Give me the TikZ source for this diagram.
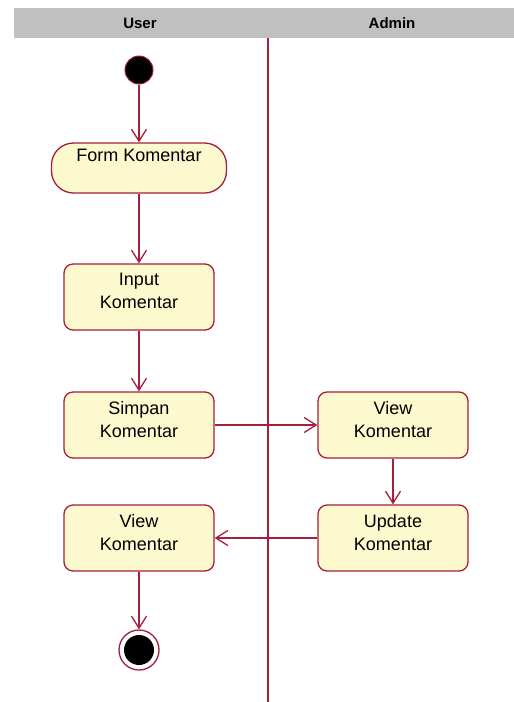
\documentclass[tikz,border=0pt]{standalone}
\usepackage{fontspec}
\setmainfont{Liberation Sans}
\usetikzlibrary{positioning}
\usetikzlibrary{arrows.meta}
\definecolor{umlred}{RGB}{165,30,60}
\definecolor{umlfill}{RGB}{252,249,206}
\definecolor{lanegray}{RGB}{192,192,192}

\begin{document}
\begin{tikzpicture}[x=1pt,y=-1pt,
	activity/.style={draw=umlred, fill=umlfill, line width=1.3pt, rounded corners=9pt, minimum width=150pt, minimum height=66pt, inner sep=0pt, align=center, font=\fontsize{18}{23}\selectfont, text depth=12pt},
	flow/.style={draw=umlred, line width=1.3pt, -{Straight Barb[length=12pt,width=15pt,line width=1.3pt]}},
	lanehead/.style={font=\fontsize{15}{18}\selectfont\bfseries}]
					\useasboundingbox (0,0) rectangle (514,702);

					%Swimlanes
					\fill[lanegray] (14,8) rectangle (514,38);
					\node[lanehead] (user)  at (140,23) {User};
					\node[lanehead] (admin) at (392,23) {Admin};
					\coordinate      (lanetop) 	at 	(268,38);
					\coordinate      (lanebot) 	at 	(268,702);
					\draw[umlred, line width=1.3pt] (lanetop) -- (lanebot);

					%Nodes
					\node[circle, fill=black, draw=umlred, line width=1pt, minimum size=28pt, inner sep=0pt] (start) at (139,70) {};
					\node[activity, minimum width=175pt, minimum height=50pt, rounded corners=22pt, text depth=25pt] (form) at (139,168) {Form Komentar};
					\node[activity] (input) 	at 	(139,297) {Input\\Komentar};
					\node[activity] (simpan) 	at 	(139,425) {Simpan\\Komentar};
					\node[activity] (viewadmin) at 	(393,425) {View\\Komentar};
					\node[activity] (update) 	at 	(393,538) {Update\\Komentar};
					\node[activity] (viewuser) 	at 	(139,538) {View\\Komentar};
					\node[circle, draw=umlred, fill=white, line width=1.3pt, minimum size=40pt, inner sep=0pt] (finish) at (139,650) {};
					\fill[black] (finish.center) circle (15pt);

					%Lines
					\draw[flow] (start) -- (form);
					\draw[flow] (form) -- (input);
					\draw[flow] (input) -- (simpan);
					\draw[flow] (simpan) -- (viewadmin);
					\draw[flow] (viewadmin) -- (update);
					\draw[flow] (update) -- (viewuser);
					\draw[flow] (viewuser) -- (finish);

				\end{tikzpicture}
\end{document}
